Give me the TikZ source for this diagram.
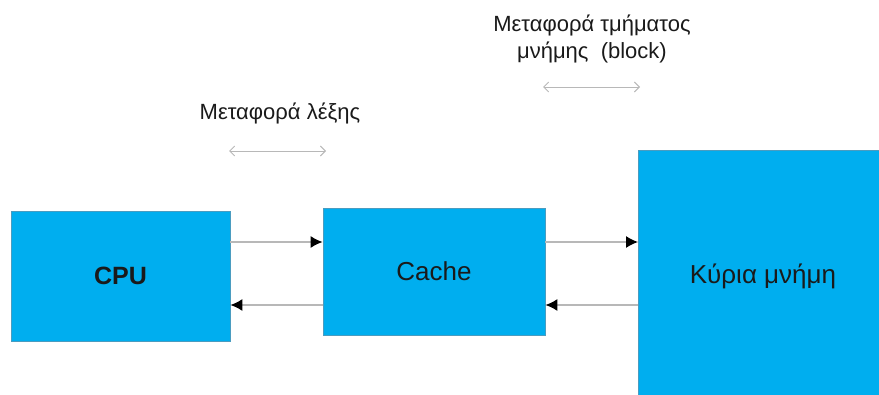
\documentclass[tikz,border=0pt]{standalone}
\usepackage{fontspec}
\setmainfont{Liberation Sans}
\usetikzlibrary{arrows.meta}
\definecolor{boxblue}{HTML}{00AEEF}
\definecolor{boxedge}{HTML}{4A9CC0}
\definecolor{linegray}{HTML}{B8B8B8}
\definecolor{txt}{HTML}{1A1A1A}
\tikzset{
  unitbox/.style={draw=boxedge, line width=0.8pt, fill=boxblue, inner sep=0pt, text=txt, font=\fontsize{26}{30}\selectfont},
  flow/.style={draw=linegray, line width=1.3pt, -{Latex[length=12pt,width=12pt,black]}},
  span/.style={draw=linegray, line width=0.9pt, {Straight Barb[length=5pt,width=10pt]}-{Straight Barb[length=5pt,width=10pt]}},
  note/.style={text=txt, font=\fontsize{22}{27}\selectfont, align=center, inner sep=0pt}
}
\begin{document}
\begin{tikzpicture}[x=1pt,y=1pt]
\useasboundingbox (0,0) rectangle (879,394);
\begin{scope}
\clip (0,0) rectangle (879,394);
\node[unitbox, minimum width=219pt, minimum height=130pt, font=\bfseries\fontsize{25}{29}\selectfont] (cpu) at (120.5,118) {CPU};
\node[unitbox, minimum width=222pt, minimum height=127pt] (cache) at (434,122.5) {Cache};
\node[unitbox, minimum width=260pt, minimum height=270pt, anchor=north west] (mem) at (638,244) {};
\node[text=txt, font=\fontsize{26}{30}\selectfont, inner sep=0pt] (memlabel) at (763,118) {Κύρια μνήμη};
\end{scope}
\draw[flow] (cpu.east |- 0,152) -- (cache.west |- 0,152);
\draw[flow] (cache.west |- 0,89) -- (cpu.east |- 0,89);
\draw[flow] (cache.east |- 0,152) -- (mem.west |- 0,152);
\draw[flow] (mem.west |- 0,89) -- (cache.east |- 0,89);
\node[note] (wordlbl) at (280,281) {Μεταφορά λέξης};
\node[note] (blocklbl) at (592,355) {Μεταφορά τμήματος\\μνήμης\ \ (block)};
\coordinate (w1) at (229,243);
\coordinate (w2) at (326,243);
\coordinate (b1) at (543,307);
\coordinate (b2) at (640,307);
\draw[span] (w1) -- (w2);
\draw[span] (b1) -- (b2);
\end{tikzpicture}
\end{document}
